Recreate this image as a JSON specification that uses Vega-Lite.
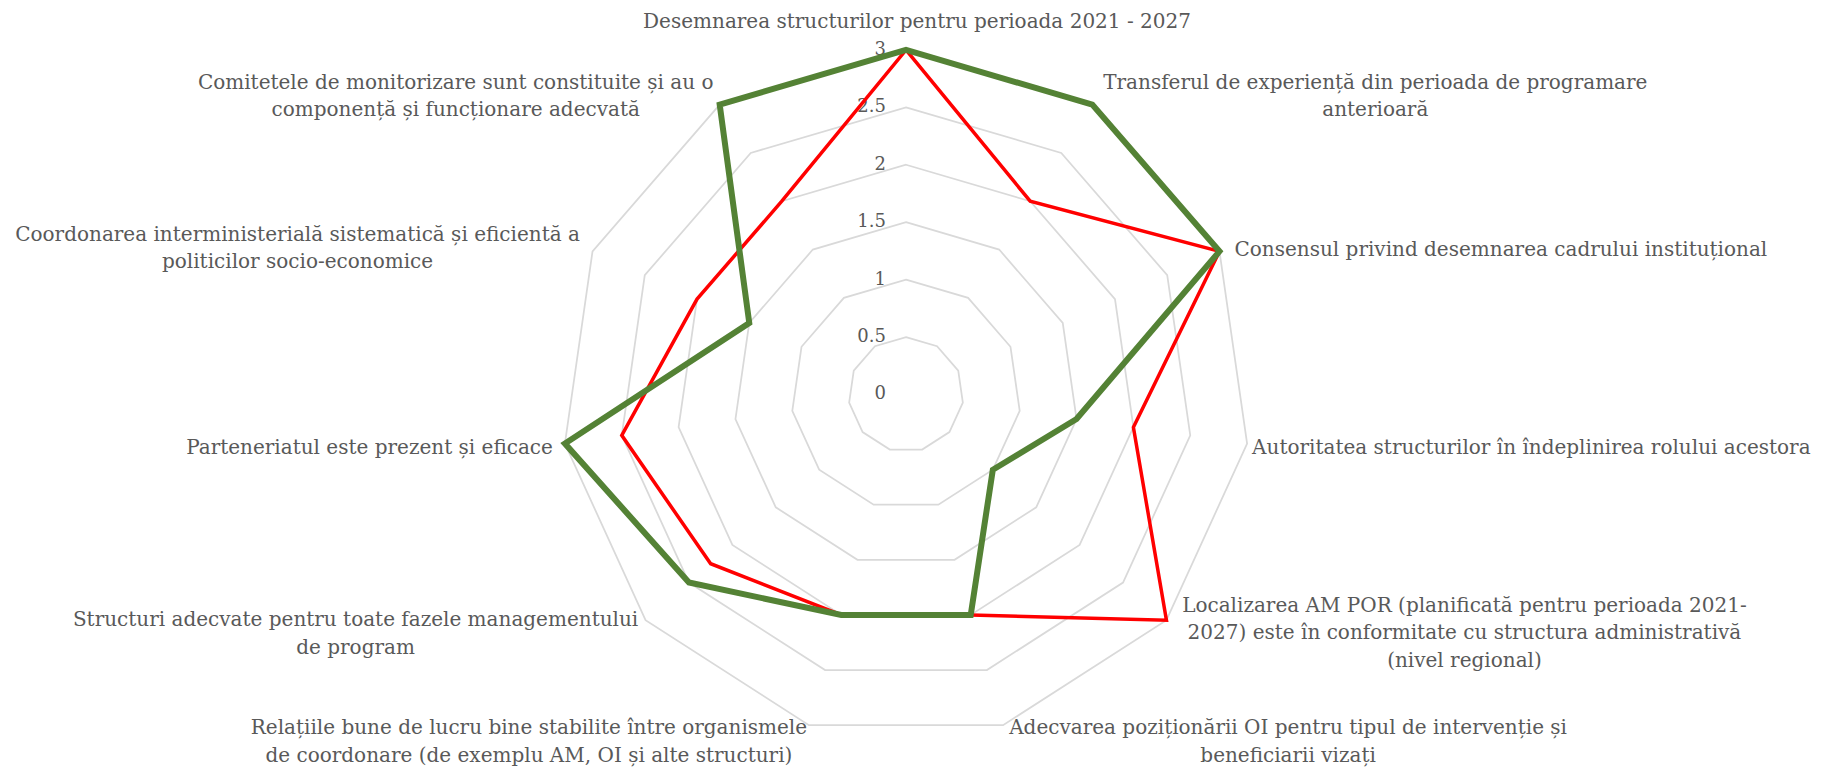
{
  "$schema": "https://vega.github.io/schema/vega-lite/v6.json",
  "width": 1834,
  "height": 768,
  "padding": 0,
  "autosize": {"type": "none"},
  "background": "white",
  "config": {
    "view": {"stroke": null},
    "text": {"font": "DejaVu Serif", "fontSize": 20, "color": "#595959", "lineHeight": 27.5}
  },
  "datasets": {
    "categories": [
      {"k": 0, "name": "Desemnarea structurilor pentru perioada 2021 - 2027"},
      {"k": 1, "name": "Transferul de experiență din perioada de programare\nanterioară"},
      {"k": 2, "name": "Consensul privind desemnarea cadrului instituțional"},
      {"k": 3, "name": "Autoritatea structurilor în îndeplinirea rolului acestora"},
      {"k": 4, "name": "Localizarea AM POR (planificată pentru perioada 2021-\n2027) este în conformitate cu structura administrativă\n(nivel regional)"},
      {"k": 5, "name": "Adecvarea poziționării OI pentru tipul de intervenție și\nbeneficiarii vizați"},
      {"k": 6, "name": "Relațiile bune de lucru bine stabilite între organismele\nde coordonare (de exemplu AM, OI și alte structuri)"},
      {"k": 7, "name": "Structuri adecvate pentru toate fazele managementului\nde program"},
      {"k": 8, "name": "Parteneriatul este prezent și eficace"},
      {"k": 9, "name": "Coordonarea interministerială sistematică și eficientă a\npoliticilor socio-economice"},
      {"k": 10, "name": "Comitetele de monitorizare sunt constituite și au o\ncomponență și funcționare adecvată"}
    ],
    "scores": [
      {"series": "Seria 1", "k": 0, "value": 3},
      {"series": "Seria 1", "k": 1, "value": 2},
      {"series": "Seria 1", "k": 2, "value": 3},
      {"series": "Seria 1", "k": 3, "value": 2},
      {"series": "Seria 1", "k": 4, "value": 3},
      {"series": "Seria 1", "k": 5, "value": 2},
      {"series": "Seria 1", "k": 6, "value": 2},
      {"series": "Seria 1", "k": 7, "value": 2.25},
      {"series": "Seria 1", "k": 8, "value": 2.5},
      {"series": "Seria 1", "k": 9, "value": 2},
      {"series": "Seria 1", "k": 10, "value": 2},
      {"series": "Seria 2", "k": 0, "value": 3},
      {"series": "Seria 2", "k": 1, "value": 3},
      {"series": "Seria 2", "k": 2, "value": 3},
      {"series": "Seria 2", "k": 3, "value": 1.5},
      {"series": "Seria 2", "k": 4, "value": 1},
      {"series": "Seria 2", "k": 5, "value": 2},
      {"series": "Seria 2", "k": 6, "value": 2},
      {"series": "Seria 2", "k": 7, "value": 2.5},
      {"series": "Seria 2", "k": 8, "value": 3},
      {"series": "Seria 2", "k": 9, "value": 1.5},
      {"series": "Seria 2", "k": 10, "value": 3}
    ],
    "levels": [
      {"level": 0}, {"level": 0.5}, {"level": 1}, {"level": 1.5}, {"level": 2}, {"level": 2.5}, {"level": 3}
    ]
  },
  "encoding": {
    "x": {"field": "x", "type": "quantitative", "scale": {"domain": [-7.8872, 8.0787], "nice": false, "zero": false}, "axis": null},
    "y": {"field": "y", "type": "quantitative", "scale": {"domain": [-3.2515, 3.4343], "nice": false, "zero": false}, "axis": null}
  },
  "layer": [
    {
      "data": {"name": "categories"},
      "transform": [
        {"calculate": "[0.5, 1, 1.5, 2, 2.5, 3]", "as": "level"},
        {"flatten": ["level"]},
        {"calculate": "2*PI*datum.k/11", "as": "a"},
        {"calculate": "datum.level*sin(datum.a)", "as": "x"},
        {"calculate": "datum.level*cos(datum.a)", "as": "y"}
      ],
      "mark": {"type": "line", "interpolate": "linear-closed", "stroke": "#d9d9d9", "strokeWidth": 1.75},
      "encoding": {
        "detail": {"field": "level", "type": "nominal"},
        "order": {"field": "k", "type": "quantitative"}
      }
    },
    {
      "data": {"name": "levels"},
      "transform": [
        {"calculate": "0", "as": "x"},
        {"calculate": "datum.level", "as": "y"}
      ],
      "mark": {"type": "text", "align": "right", "baseline": "middle", "dx": -20, "fontSize": 18},
      "encoding": {"text": {"field": "level", "type": "nominal"}}
    },
    {
      "data": {"name": "scores"},
      "transform": [
        {"filter": "datum.series == 'Seria 1'"},
        {"calculate": "2*PI*datum.k/11", "as": "a"},
        {"calculate": "datum.value*sin(datum.a)", "as": "x"},
        {"calculate": "datum.value*cos(datum.a)", "as": "y"}
      ],
      "mark": {"type": "line", "interpolate": "linear-closed", "stroke": "#ff0000", "strokeWidth": 3.5},
      "encoding": {"order": {"field": "k", "type": "quantitative"}}
    },
    {
      "data": {"name": "scores"},
      "transform": [
        {"filter": "datum.series == 'Seria 2'"},
        {"calculate": "2*PI*datum.k/11", "as": "a"},
        {"calculate": "datum.value*sin(datum.a)", "as": "x"},
        {"calculate": "datum.value*cos(datum.a)", "as": "y"}
      ],
      "mark": {"type": "line", "interpolate": "linear-closed", "stroke": "#548235", "strokeWidth": 6},
      "encoding": {"order": {"field": "k", "type": "quantitative"}}
    },
    {
      "data": {"name": "categories"},
      "transform": [{"filter": "datum.k == 0"}, {"calculate": "2*PI*datum.k/11", "as": "a"}, {"calculate": "3*sin(datum.a)", "as": "x"}, {"calculate": "3*cos(datum.a)", "as": "y"}],
      "mark": {"type": "text", "align": "center", "baseline": "middle", "dx": 11, "dy": -28, "lineBreak": "\n"},
      "encoding": {"text": {"field": "name"}}
    },
    {
      "data": {"name": "categories"},
      "transform": [{"filter": "datum.k == 1"}, {"calculate": "2*PI*datum.k/11", "as": "a"}, {"calculate": "3*sin(datum.a)", "as": "x"}, {"calculate": "3*cos(datum.a)", "as": "y"}],
      "mark": {"type": "text", "align": "center", "baseline": "middle", "dx": 283, "dy": -21.75, "lineBreak": "\n"},
      "encoding": {"text": {"field": "name"}}
    },
    {
      "data": {"name": "categories"},
      "transform": [{"filter": "datum.k == 2"}, {"calculate": "2*PI*datum.k/11", "as": "a"}, {"calculate": "3*sin(datum.a)", "as": "x"}, {"calculate": "3*cos(datum.a)", "as": "y"}],
      "mark": {"type": "text", "align": "left", "baseline": "middle", "dx": 15, "dy": -1, "lineBreak": "\n"},
      "encoding": {"text": {"field": "name"}}
    },
    {
      "data": {"name": "categories"},
      "transform": [{"filter": "datum.k == 3"}, {"calculate": "2*PI*datum.k/11", "as": "a"}, {"calculate": "3*sin(datum.a)", "as": "x"}, {"calculate": "3*cos(datum.a)", "as": "y"}],
      "mark": {"type": "text", "align": "left", "baseline": "middle", "dx": 5, "dy": 4.5, "lineBreak": "\n"},
      "encoding": {"text": {"field": "name"}}
    },
    {
      "data": {"name": "categories"},
      "transform": [{"filter": "datum.k == 4"}, {"calculate": "2*PI*datum.k/11", "as": "a"}, {"calculate": "3*sin(datum.a)", "as": "x"}, {"calculate": "3*cos(datum.a)", "as": "y"}],
      "mark": {"type": "text", "align": "center", "baseline": "middle", "dx": 298, "dy": -14.5, "lineBreak": "\n"},
      "encoding": {"text": {"field": "name"}}
    },
    {
      "data": {"name": "categories"},
      "transform": [{"filter": "datum.k == 5"}, {"calculate": "2*PI*datum.k/11", "as": "a"}, {"calculate": "3*sin(datum.a)", "as": "x"}, {"calculate": "3*cos(datum.a)", "as": "y"}],
      "mark": {"type": "text", "align": "center", "baseline": "middle", "dx": 285, "dy": 3.25, "lineBreak": "\n"},
      "encoding": {"text": {"field": "name"}}
    },
    {
      "data": {"name": "categories"},
      "transform": [{"filter": "datum.k == 6"}, {"calculate": "2*PI*datum.k/11", "as": "a"}, {"calculate": "3*sin(datum.a)", "as": "x"}, {"calculate": "3*cos(datum.a)", "as": "y"}],
      "mark": {"type": "text", "align": "center", "baseline": "middle", "dx": -280, "dy": 3.25, "lineBreak": "\n"},
      "encoding": {"text": {"field": "name"}}
    },
    {
      "data": {"name": "categories"},
      "transform": [{"filter": "datum.k == 7"}, {"calculate": "2*PI*datum.k/11", "as": "a"}, {"calculate": "3*sin(datum.a)", "as": "x"}, {"calculate": "3*cos(datum.a)", "as": "y"}],
      "mark": {"type": "text", "align": "center", "baseline": "middle", "dx": -290, "dy": 0.25, "lineBreak": "\n"},
      "encoding": {"text": {"field": "name"}}
    },
    {
      "data": {"name": "categories"},
      "transform": [{"filter": "datum.k == 8"}, {"calculate": "2*PI*datum.k/11", "as": "a"}, {"calculate": "3*sin(datum.a)", "as": "x"}, {"calculate": "3*cos(datum.a)", "as": "y"}],
      "mark": {"type": "text", "align": "right", "baseline": "middle", "dx": -12, "dy": 4.5, "lineBreak": "\n"},
      "encoding": {"text": {"field": "name"}}
    },
    {
      "data": {"name": "categories"},
      "transform": [{"filter": "datum.k == 9"}, {"calculate": "2*PI*datum.k/11", "as": "a"}, {"calculate": "3*sin(datum.a)", "as": "x"}, {"calculate": "3*cos(datum.a)", "as": "y"}],
      "mark": {"type": "text", "align": "center", "baseline": "middle", "dx": -295, "dy": -16.75, "lineBreak": "\n"},
      "encoding": {"text": {"field": "name"}}
    },
    {
      "data": {"name": "categories"},
      "transform": [{"filter": "datum.k == 10"}, {"calculate": "2*PI*datum.k/11", "as": "a"}, {"calculate": "3*sin(datum.a)", "as": "x"}, {"calculate": "3*cos(datum.a)", "as": "y"}],
      "mark": {"type": "text", "align": "center", "baseline": "middle", "dx": -264, "dy": -21.75, "lineBreak": "\n"},
      "encoding": {"text": {"field": "name"}}
    }
  ]
}
